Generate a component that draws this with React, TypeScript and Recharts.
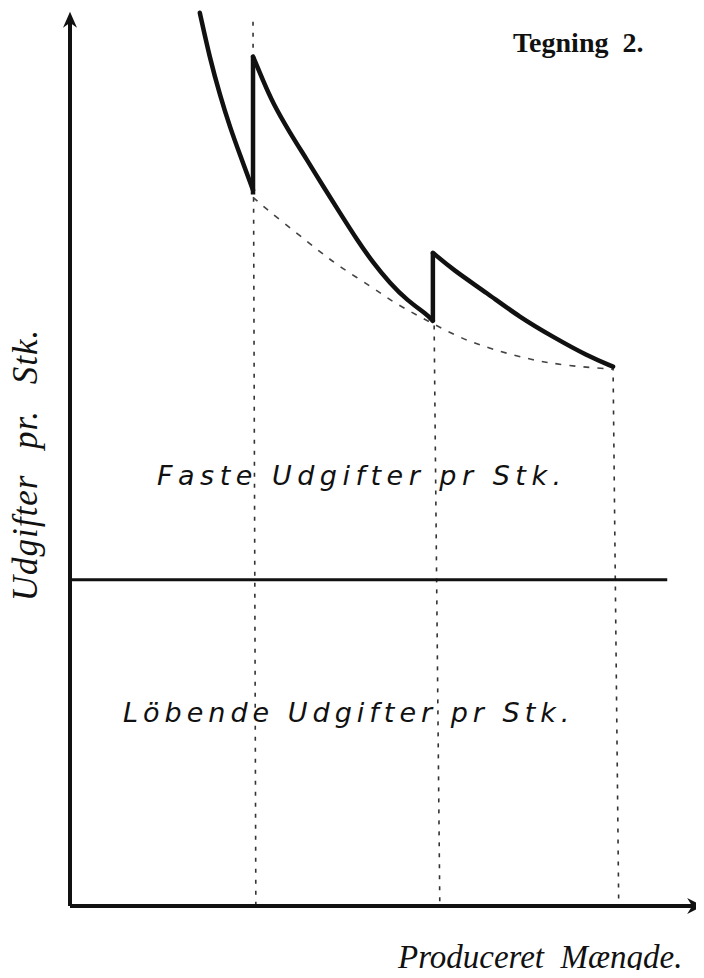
import { ComposedChart, Line, XAxis, YAxis, ReferenceLine, ReferenceDot } from 'recharts'

// quantity (q) vs cost per unit (c)
const fixedCostA = [
  { q: 20.6, c: 99.7 }, { q: 22.2, c: 94.6 }, { q: 23.8, c: 90.5 },
  { q: 25.4, c: 86.9 }, { q: 27.0, c: 83.8 }, { q: 29.05, c: 79.9 },
]
const fixedCostB = [
  { q: 29.05, c: 94.8 }, { q: 30.6, c: 92.2 }, { q: 32.2, c: 89.6 },
  { q: 34.9, c: 86.3 }, { q: 37.6, c: 83.3 }, { q: 40.2, c: 80.3 },
  { q: 42.9, c: 77.3 }, { q: 45.6, c: 74.3 }, { q: 48.1, c: 71.8 },
  { q: 50.8, c: 69.5 }, { q: 53.5, c: 67.6 }, { q: 56.7, c: 66.0 },
  { q: 57.6, c: 65.3 },
]
const fixedCostC = [
  { q: 57.6, c: 72.9 }, { q: 60.8, c: 71.0 }, { q: 66.2, c: 68.4 },
  { q: 71.4, c: 65.7 }, { q: 76.7, c: 63.5 }, { q: 82.1, c: 61.4 },
  { q: 86.2, c: 60.2 },
]
const envelope = [
  { q: 29.05, c: 79.1 }, { q: 31.3, c: 77.7 }, { q: 36.0, c: 75.1 },
  { q: 39.7, c: 73.0 }, { q: 42.9, c: 71.3 }, { q: 48.1, c: 69.0 },
  { q: 51.3, c: 67.4 }, { q: 54.4, c: 66.2 }, { q: 57.6, c: 65.0 },
  { q: 61.9, c: 63.4 }, { q: 67.1, c: 62.1 }, { q: 73.5, c: 60.9 },
  { q: 78.9, c: 60.3 }, { q: 86.2, c: 59.9 },
]
// capacity steps: [q, c low, c high]
const jumps = [
  [29.05, 79.4, 94.8],
  [57.6, 65.3, 72.9],
]
// dotted guide lines: [q top, c top, q bottom]
const guides = [
  [29.05, 98.7, 29.5],
  [57.8, 64.8, 58.7],
  [86.2, 60.2, 87.1],
]
const runningCost = 36.4
const runningEnd = 94.8
const xArrow = 100.5
const yArrow = 99.8

const INK = '#111'

const arrowUp = (p: any) => (
  <path d={`M${p.cx},${p.cy} L${p.cx - 7},${p.cy + 16} L${p.cx},${p.cy + 11} L${p.cx + 7},${p.cy + 16} Z`} fill={INK} />
)
const arrowRight = (p: any) => (
  <path d={`M${p.cx},${p.cy} L${p.cx - 16},${p.cy - 8} L${p.cx - 11},${p.cy} L${p.cx - 16},${p.cy + 8} Z`} fill={INK} />
)

const label = (left: number, top: number, size: number, family: string, extra: any = {}) => ({
  position: 'absolute' as const, left, top, fontSize: size, fontFamily: family,
  lineHeight: 1, whiteSpace: 'pre' as const, color: INK, ...extra,
})

export default function App() {
  return (
    <div style={{ position: 'relative', width: 704, height: 978, margin: -8, background: '#fff', overflow: 'hidden' }}>
      <ComposedChart width={704} height={978} margin={{ top: 10, right: 4, bottom: 72, left: 70 }}>
        <XAxis type="number" dataKey="q" domain={[0, 100]} hide allowDataOverflow />
        <YAxis type="number" dataKey="c" domain={[0, 100]} hide allowDataOverflow />

        {guides.map(([qt, ct, qb], i) => (
          <ReferenceLine key={'g' + i} segment={[{ x: qt, y: ct }, { x: qb, y: 0 }]}
            stroke="#333" strokeWidth={1.6} strokeDasharray="4 7" ifOverflow="visible" />
        ))}
        <ReferenceLine segment={[{ x: 0, y: runningCost }, { x: runningEnd, y: runningCost }]}
          stroke={INK} strokeWidth={3} ifOverflow="visible" />

        {/* axes */}
        <ReferenceLine segment={[{ x: 0, y: 0 }, { x: 0, y: yArrow - 1 }]} stroke={INK} strokeWidth={4} ifOverflow="visible" />
        <ReferenceLine segment={[{ x: 0, y: 0 }, { x: xArrow - 1, y: 0 }]} stroke={INK} strokeWidth={4} ifOverflow="visible" />

        <Line data={envelope} dataKey="c" type="basis" stroke="#444" strokeWidth={1.6}
          strokeDasharray="6 8" dot={false} isAnimationActive={false} />
        {[fixedCostA, fixedCostB, fixedCostC].map((seg, i) => (
          <Line key={'s' + i} data={seg} dataKey="c" type="basis" stroke={INK} strokeWidth={4.5}
            dot={false} isAnimationActive={false} strokeLinecap="round" />
        ))}
        {jumps.map(([q, lo, hi], i) => (
          <ReferenceLine key={'j' + i} segment={[{ x: q, y: lo }, { x: q, y: hi }]}
            stroke={INK} strokeWidth={4.5} ifOverflow="visible" />
        ))}

        <ReferenceDot x={0} y={yArrow} r={0} shape={arrowUp} ifOverflow="visible" />
        <ReferenceDot x={xArrow} y={0} r={0} shape={arrowRight} ifOverflow="visible" />
      </ComposedChart>

      <div style={label(513, 29, 28, '"Liberation Serif", serif', { fontWeight: 'bold' })}>Tegning  2.</div>
      <div style={label(157, 462, 27, '"DejaVu Sans", sans-serif', { fontStyle: 'italic', letterSpacing: 5.5 })}>Faste Udgifter pr Stk.</div>
      <div style={label(123, 699, 27, '"DejaVu Sans", sans-serif', { fontStyle: 'italic', letterSpacing: 5 })}>Löbende Udgifter pr Stk.</div>
      <div style={label(398, 941, 33, '"Liberation Serif", serif', { fontStyle: 'italic' })}>Produceret  Mængde.</div>
      <div style={label(25, 465, 35, '"Liberation Serif", serif', {
        fontStyle: 'italic', transform: 'translate(-50%, -50%) rotate(-90deg)', wordSpacing: 16, letterSpacing: 1,
      })}>Udgifter pr. Stk.</div>
    </div>
  )
}
